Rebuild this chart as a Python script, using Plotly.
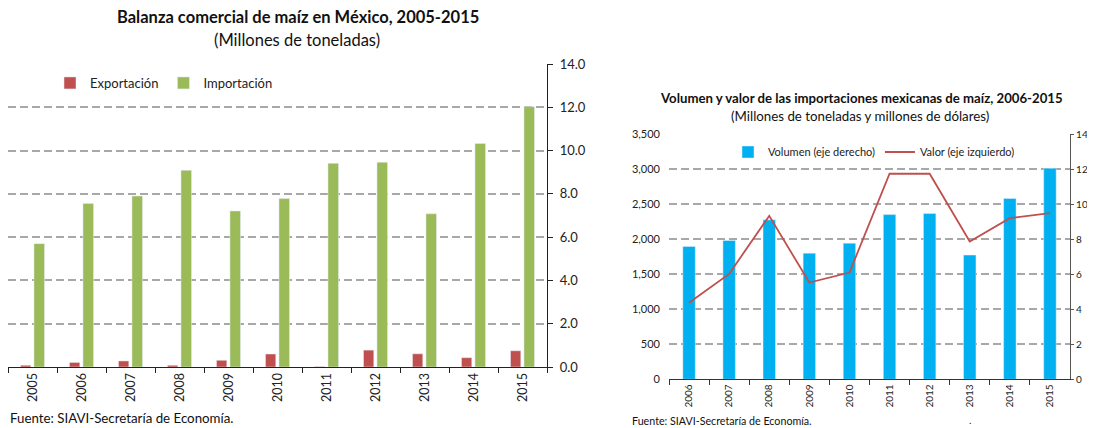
import plotly.graph_objects as go

# Left chart: trade balance (millions of tonnes)
YEARS = ['2005', '2006', '2007', '2008', '2009', '2010', '2011', '2012', '2013', '2014', '2015']
EXPORTACION = [0.08, 0.21, 0.28, 0.08, 0.31, 0.60, 0.02, 0.78, 0.61, 0.43, 0.75]
IMPORTACION = [5.70, 7.56, 7.90, 9.09, 7.21, 7.78, 9.41, 9.46, 7.08, 10.33, 12.03]

# Right chart: import volume (millions of tonnes) and value (millions of dollars)
YEARS_2 = ['2006', '2007', '2008', '2009', '2010', '2011', '2012', '2013', '2014', '2015']
VOLUMEN = [7.58, 7.92, 9.10, 7.20, 7.77, 9.40, 9.46, 7.09, 10.32, 12.05]
VALOR = [1092, 1504, 2333, 1380, 1523, 2933, 2933, 1966, 2300, 2371]

RED = '#C0504D'
GREEN = '#9BBB59'
BLUE = '#00B0F0'
FONT = 'Lato'

# the page body has an 8px margin, so the figure is a bit smaller than the window
W, H = 1087, 420


def px_x(x):
    """screen x (px) -> paper x"""
    return (x - 8) / W


def px_y(y):
    """screen y (px, from top) -> paper y"""
    return 1 - (y - 8) / H


fig = go.Figure()

fig.add_trace(go.Bar(x=YEARS, y=EXPORTACION, name='Exportación', marker_color=RED,
                     width=0.21, offset=-0.245, xaxis='x', yaxis='y', legend='legend'))
fig.add_trace(go.Bar(x=YEARS, y=IMPORTACION, name='Importación', marker_color=GREEN,
                     width=0.215, offset=0.03, xaxis='x', yaxis='y', legend='legend'))

fig.add_trace(go.Bar(x=YEARS_2, y=VOLUMEN, name='Volumen (eje derecho)', marker_color=BLUE,
                     width=0.31, xaxis='x2', yaxis='y2', legend='legend2'))
fig.add_trace(go.Scatter(x=YEARS_2, y=VALOR, name='Valor (eje izquierdo)', mode='lines',
                         line=dict(color=RED, width=1.8), xaxis='x2', yaxis='y3',
                         legend='legend2'))

grid = dict(showgrid=True, gridcolor='#A8A8A8', gridwidth=1.5, griddash='8px,4px')
tickfont_l = dict(family=FONT, size=13, color='#222')
tickfont_r = dict(family=FONT, size=11, color='#222')

fig.update_layout(
    width=W, height=H,
    margin=dict(l=0, r=0, t=0, b=0),
    paper_bgcolor='white', plot_bgcolor='white',
    barmode='overlay',
    font=dict(family=FONT, color='#111'),
    xaxis=dict(domain=[px_x(8), px_x(547)], anchor='y', type='category', automargin=False,
               tickangle=-90, tickfont=dict(family=FONT, size=12.5, color='#222'),
               showline=True, linecolor='#222', linewidth=1.2, ticks='outside',
               ticklen=5, tickcolor='#222', tickson='boundaries', showgrid=False),
    yaxis=dict(domain=[px_y(367), px_y(64)], anchor='x', side='right', range=[0, 14],
               automargin=False, dtick=2, tickformat='.1f', tickfont=tickfont_l,
               ticklabelstandoff=4, showline=True, linecolor='#222', linewidth=1.2,
               ticks='outside', ticklen=5, tickcolor='#222', zeroline=False, **grid),
    xaxis2=dict(domain=[px_x(669), px_x(1070)], anchor='y2', type='category',
                automargin=False, tickangle=-90,
                tickfont=dict(family=FONT, size=10, color='#222'), showline=True,
                linecolor='#333', linewidth=1.2, ticks='outside', ticklen=5,
                tickcolor='#333', tickson='boundaries', showgrid=False),
    yaxis2=dict(domain=[px_y(379.3), px_y(134)], anchor='x2', side='right', range=[0, 14],
                automargin=False, dtick=2, tickfont=dict(family=FONT, size=10, color='#222'),
                ticklabeloverflow='allow', showline=True, linecolor='#555', linewidth=1.2,
                ticks='outside', ticklen=3, tickcolor='#555', zeroline=False, **grid),
    yaxis3=dict(anchor='x2', overlaying='y2', side='left', range=[0, 3500],
                automargin=False, dtick=500, tickformat=',', tickfont=tickfont_r,
                ticklabelstandoff=8, showgrid=False, showline=False, zeroline=False,
                ticks=''),
    legend=dict(orientation='h', x=px_x(50), y=px_y(83), xanchor='left', yanchor='middle',
                font=dict(family=FONT, size=13, color='#222'), bgcolor='rgba(0,0,0,0)',
                itemwidth=30),
    legend2=dict(orientation='h', x=px_x(728), y=px_y(152), xanchor='left',
                 yanchor='middle', font=dict(family=FONT, size=11, color='#222'),
                 bgcolor='rgba(0,0,0,0)', itemwidth=30),
    annotations=[
        dict(text='<b>Balanza comercial de maíz en México, 2005-2015</b>', x=298, y=17,
             font=dict(size=16.5)),
        dict(text='(Millones de toneladas)', x=297, y=40, font=dict(size=16.5)),
        dict(text='<b>Volumen y valor de las importaciones mexicanas de maíz, 2006-2015</b>',
             x=861, y=98, font=dict(size=13.2)),
        dict(text='(Millones de toneladas y millones de dólares)', x=860, y=116,
             font=dict(size=13.3)),
        dict(text='Fuente: SIAVI-Secretaría de Economía.', x=8, y=418,
             xanchor='left', font=dict(size=13.3)),
        dict(text='Fuente: SIAVI-Secretaría de Economía.', x=630, y=420,
             xanchor='left', font=dict(size=10.7)),
        dict(text='.', x=970, y=420, font=dict(size=10)),
    ],
)

# annotation positions above are screen pixels; convert to paper coords
for a in fig.layout.annotations:
    a.update(xref='paper', yref='paper', x=px_x(a.x), y=px_y(a.y), yanchor='middle',
             showarrow=False, font_family=FONT, font_color='#111')
    if a.xanchor is None:
        a.update(xanchor='center')

fig.write_html("out.html")
